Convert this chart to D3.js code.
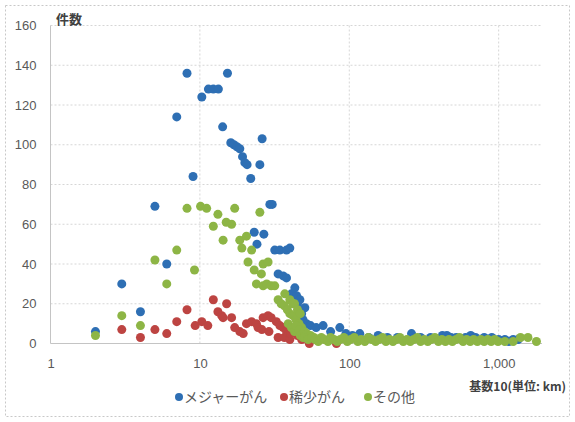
<!DOCTYPE html>
<html>
<head>
<meta charset="utf-8">
<script src="https://cdn.jsdelivr.net/npm/d3@7/dist/d3.min.js"></script>
<style>
  html, body { margin: 0; padding: 0; background: #fff; }
  svg { display: block; }
</style>
</head>
<body>
<svg id="chart" width="575" height="422"></svg>
<script>
// Series: [distance (km), count]
const majorData = [
  [2,6],[3,30],[4,16],[5,69],[6,40],[7,114],[8.2,136],[9,84],[10.3,124],
  [11.4,128],[12.3,128],[13.3,128],[14.2,109],[15.3,136],[16.1,101],[16.9,100],
  [17.7,99],[18.5,98],[19.3,94],[20,91],[20.7,90],[21.9,83],[25.2,90],[26.1,103],
  [29.4,70],[30.5,70],[23.1,56],[26.8,55],[24.1,50],[31.7,47],[34.3,47],[38,47],
  [40,48],[33.4,35],[36.1,34],[38,33],[41,25],[43.2,28],[44.4,24],[46.7,22],
  [45,20],[48,15],[49,12],
  [50.4,18],[51.7,10],[55,9],[60,8],[66.8,9],[75,6],[86.4,8],[95,5],[105,4],
  [117.5,5],[135,3],[156,4],[180,3],[210,3],[261,5],[300,3],[350,3],[420,4],
  [450,4],[480,3],[520,3],[600,3],[650,4],[700,3],[800,3],[900,3],[1000,2],
  [1100,2],[1170,1],[1250,2],[1350,2]
];
const rareData = [
  [3,7],[4,3],[5,7],[6,5],[7,11],[8.2,17],[9.3,9],[10.3,11],[11.3,9],[12.3,22],
  [13.2,16],[14,14],[14.3,13],[15.1,20],[16.3,13],[17.1,8],[18.5,6],[19.5,5],
  [20.5,10],[22.2,11],[23.9,10],[24.5,8],[26.5,13],[28.6,14],[30,13],[26,7],
  [29,6],[32.5,11],[34.3,9],[36.1,8],[33.4,3],[36.8,3],[40,2],[38,6],[40.5,5],
  [45,4],[48,2],[54,0],[82,0]
];
const otherData = [
  [2,4],[3,14],[4,9],[5,42],[6,30],[7,47],[8.2,68],[9.2,37],[10.1,69],[11.1,68],
  [12.3,59],[13.2,65],[14.3,52],[15,61],[16.3,60],[17.1,68],[18.5,52],[19.1,48],
  [20.5,54],[21,41],[22.2,47],[23.1,37],[23.9,30],[25.2,66],[25.8,35],[26.5,40],
  [28.6,41],[26.5,29],[28,30],[30,29],[31.7,29],[37,25],[40,22],[43,20],
  [33.4,22],[35,20],[36.8,19],[38.5,17],[40,15],[42,14],[44,12],[46,10],[48,8],
  [42,20],[45,17],[47,15],[39,10],[41,8],[43,6],[44,9],[46,7],[47,4],[49,3],
  [50,6],[52,5],[55,4],[58,3],
  [50,3],[53,2],[56,3],[59,2],[62,1],[65,3],[68,2],[72,1],[75,3],[79,2],[83,1],
  [87,2],[92,3],[97,1],[102,2],[108,3],[114,1],[120,2],[127,1],[134,3],[142,2],
  [150,1],[158,2],[167,3],[176,1],[186,2],[196,1],[207,2],[218,3],[230,1],[243,2],
  [256,1],[270,2],[285,3],[300,1],[318,2],[335,1],[354,2],[374,3],[395,1],[417,2],
  [440,1],[465,2],[490,1],[518,2],[547,3],[578,1],[610,2],[645,1],[680,2],[720,1],
  [760,2],[800,1],[845,2],[890,1],[940,2],[990,1],[1100,1],[1250,1],[1400,3],
  [1570,3],[1790,1]
];

const seriesNames = ["メジャーがん", "稀少がん", "その他"];
const seriesColors = ["#2e6fb4", "#bd4442", "#8db545"];
const yTicks = [0, 20, 40, 60, 80, 100, 120, 140, 160];
const xTicks = [1, 10, 100, 1000];
const xTickLabels = ["1", "10", "100", "1,000"];
const yTitle = "件数";
const xTitle = "基数10(単位: km)";

const svg = d3.select("#chart");
const fontStack = "'Noto Sans CJK JP', 'Liberation Sans', sans-serif";

// outer chart frame
svg.append("rect")
  .attr("x", 5.5).attr("y", 5.5).attr("width", 564).attr("height", 411)
  .attr("fill", "none").attr("stroke", "#c8c8c8").attr("stroke-dasharray", "2,2");

const x = d3.scaleLog().domain([1, 1950]).range([50.5, 542]);
const y = d3.scaleLinear().domain([0, 160]).range([343.5, 25.5]);

// horizontal gridlines
svg.append("g").selectAll("line").data(yTicks.filter(d => d > 0)).join("line")
  .attr("x1", x(1)).attr("x2", x(1950))
  .attr("y1", d => y(d)).attr("y2", d => y(d))
  .attr("stroke", "#d6d6d6").attr("stroke-dasharray", "2,2");

// vertical gridlines at decades
svg.append("g").selectAll("line").data(xTicks.filter(d => d > 1)).join("line")
  .attr("x1", d => x(d)).attr("x2", d => x(d))
  .attr("y1", y(0)).attr("y2", y(160))
  .attr("stroke", "#d6d6d6").attr("stroke-dasharray", "2,2");

// axis lines
svg.append("line").attr("x1", x(1)).attr("x2", x(1)).attr("y1", y(0)).attr("y2", y(160))
  .attr("stroke", "#c4c4c4");
svg.append("line").attr("x1", x(1)).attr("x2", x(1950)).attr("y1", y(0)).attr("y2", y(0))
  .attr("stroke", "#c4c4c4");

// y-axis labels
const yAxis = d3.axisLeft(y).tickValues(yTicks).tickSize(0).tickPadding(14);
const gy = svg.append("g").attr("transform", `translate(${x(1)},0)`).call(yAxis);
gy.select(".domain").remove();
gy.selectAll("text").attr("fill", "#595959").attr("font-size", 13)
  .attr("font-family", "'Liberation Sans', sans-serif");

// x-axis labels
const xAxis = d3.axisBottom(x).tickValues(xTicks).tickSize(0).tickPadding(15)
  .tickFormat((d, i) => xTickLabels[i]);
const gx = svg.append("g").attr("transform", `translate(0,${y(0)})`).call(xAxis);
gx.select(".domain").remove();
gx.selectAll("text").attr("fill", "#595959").attr("font-size", 13)
  .attr("font-family", "'Liberation Sans', sans-serif");

// titles
svg.append("text").attr("x", 56).attr("y", 24).text(yTitle)
  .attr("font-family", fontStack).attr("font-size", 13).attr("font-weight", "bold")
  .attr("fill", "#404040");
svg.append("text").attr("x", 566).attr("y", 391).attr("text-anchor", "end").text(xTitle)
  .attr("font-family", fontStack).attr("font-size", 12).attr("font-weight", "bold")
  .attr("fill", "#404040");

// points: blue first, then red, green on top
const allSeries = [majorData, rareData, otherData];
allSeries.forEach((data, i) => {
  svg.append("g").selectAll("circle").data(data).join("circle")
    .attr("cx", d => x(d[0])).attr("cy", d => y(d[1])).attr("r", 4.5)
    .attr("fill", seriesColors[i]);
});

// legend
const legendX = [179, 284, 368];
const lg = svg.append("g");
seriesNames.forEach((name, i) => {
  lg.append("circle").attr("cx", legendX[i]).attr("cy", 397).attr("r", 4)
    .attr("fill", seriesColors[i]);
  lg.append("text").attr("x", legendX[i] + 5).attr("y", 402).text(name)
    .attr("font-family", fontStack).attr("font-size", 14).attr("fill", "#595959");
});
</script>
</body>
</html>
